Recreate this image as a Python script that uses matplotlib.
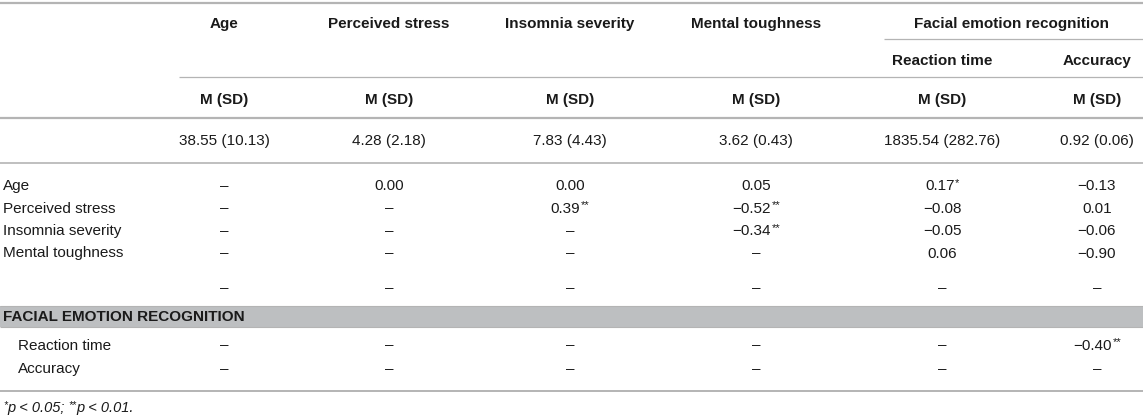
import matplotlib
matplotlib.use("Agg")
import matplotlib.pyplot as plt

plt.rcParams['font.family'] = ['Liberation Sans', 'DejaVu Sans']

# ---- data ----
col_headers = ["Age", "Perceived stress", "Insomnia severity", "Mental toughness"]
group_header = "Facial emotion recognition"
sub_headers = ["Reaction time", "Accuracy"]
stat_label = "M (SD)"
means_sd = ["38.55 (10.13)", "4.28 (2.18)", "7.83 (4.43)", "3.62 (0.43)",
            "1835.54 (282.76)", "0.92 (0.06)"]
row_labels = ["Age", "Perceived stress", "Insomnia severity", "Mental toughness", ""]
row_values = [
    ["–", "0.00", "0.00", "0.05", "0.17", "\u22120.13"],
    ["–", "–", "0.39", "\u22120.52", "\u22120.08", "0.01"],
    ["–", "–", "–", "\u22120.34", "\u22120.05", "\u22120.06"],
    ["–", "–", "–", "–", "0.06", "\u22120.90"],
    ["–", "–", "–", "–", "–", "–"],
]
row_stars = [
    ["", "", "", "", "*", ""],
    ["", "", "**", "**", "", ""],
    ["", "", "", "**", "", ""],
    ["", "", "", "", "", ""],
    ["", "", "", "", "", ""],
]
section_label = "FACIAL EMOTION RECOGNITION"
sub_row_labels = ["Reaction time", "Accuracy"]
sub_row_values = [
    ["–", "–", "–", "–", "–", "\u22120.40"],
    ["–", "–", "–", "–", "–", "–"],
]
sub_row_stars = [
    ["", "", "", "", "", "**"],
    ["", "", "", "", "", ""],
]
footnote_parts = [("*", True), ("p < 0.05; ", False), ("**", True), ("p < 0.01.", False)]

# ---- layout ----
W, H = 1143, 417
fig = plt.figure(figsize=(W / 100, H / 100), dpi=100)
ax = fig.add_axes([0, 0, 1, 1])
ax.set_xlim(0, W)
ax.set_ylim(H, 0)
ax.axis('off')

col_x = [224, 389, 570, 756, 942, 1097]
txt = '#1a1a1a'
line_c = '#b4b4b4'
fs = 11
star_fs = 8

def hline(y, x0=0, x1=W, lw=1.0):
    ax.plot([x0, x1], [y, y], color=line_c, lw=lw, solid_capstyle='butt')

hline(3, lw=1.6)
hline(39, 884, W, lw=0.9)
hline(77, 179, W, lw=0.9)
hline(117.5, lw=1.6)
hline(163, lw=1.2)
hline(391, lw=1.4)
ax.add_patch(plt.Rectangle((0, 305.5), W, 21.5, facecolor='#bdbfc1', edgecolor='none'))
hline(305.5, lw=0.8)
hline(327, lw=0.8)

# headers
for x, h in zip(col_x[:4], col_headers):
    ax.text(x, 24, h, ha='center', va='center', fontsize=fs, fontweight='bold', color=txt)
ax.text((884 + W) / 2 - 2, 24, group_header, ha='center', va='center', fontsize=fs,
        fontweight='bold', color=txt)
for x, h in zip(col_x[4:], sub_headers):
    ax.text(x, 61, h, ha='center', va='center', fontsize=fs, fontweight='bold', color=txt)
for x in col_x:
    ax.text(x, 99.5, stat_label, ha='center', va='center', fontsize=fs, fontweight='bold', color=txt)
for x, v in zip(col_x, means_sd):
    ax.text(x, 141, v, ha='center', va='center', fontsize=fs, color=txt)

fig.canvas.draw()
renderer = fig.canvas.get_renderer()

def width_px(s, **kw):
    t = ax.text(0, 0, s, **kw)
    w = t.get_window_extent(renderer).width
    t.remove()
    return w

def cell(x, y, val, stars):
    if not stars:
        ax.text(x, y, val, ha='center', va='center', fontsize=fs, color=txt)
        return
    sw = width_px(stars, fontsize=star_fs)
    vw = width_px(val, fontsize=fs)
    left = x - (sw + vw) / 2
    ax.text(left, y, val, ha='left', va='center', fontsize=fs, color=txt)
    ax.text(left + vw + 0.5, y - 3, stars, ha='left', va='center', fontsize=star_fs, color=txt)

row_y = [186, 208.5, 231, 253.5, 288]
for y, lab, vals, sts in zip(row_y, row_labels, row_values, row_stars):
    ax.text(3, y, lab, ha='left', va='center', fontsize=fs, color=txt)
    for x, v, s in zip(col_x, vals, sts):
        cell(x, y, v, s)

ax.text(3, 317, section_label, ha='left', va='center', fontsize=fs, fontweight='bold', color=txt)

sub_y = [345.5, 369]
for y, lab, vals, sts in zip(sub_y, sub_row_labels, sub_row_values, sub_row_stars):
    ax.text(18, y, lab, ha='left', va='center', fontsize=fs, color=txt)
    for x, v, s in zip(col_x, vals, sts):
        cell(x, y, v, s)

# footnote
fx = 3
fy = 408
for part, sup in footnote_parts:
    size = 7.5 if sup else 10.5
    yy = fy - 2.5 if sup else fy
    ax.text(fx, yy, part, ha='left', va='center', fontsize=size, style='italic', color=txt)
    fx += width_px(part, fontsize=size, style='italic')

fig.savefig("out.png", dpi=100)
